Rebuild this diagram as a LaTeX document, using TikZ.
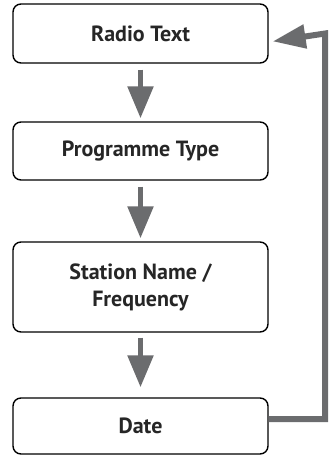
\documentclass[tikz,border=0pt]{standalone}
\usepackage{fontspec}
\setmainfont{PT Sans}
\usetikzlibrary{arrows.meta}
\definecolor{arrowgray}{HTML}{6B6C6E}
\tikzset{
  stepbox/.style={draw=black, line width=1.4pt, rounded corners=8pt, fill=white,
    minimum width=255pt, align=center, inner sep=0pt,
    font=\fontsize{22}{27}\selectfont\bfseries, text=black!85},
  flowarrow/.style={draw=arrowgray, line width=5.5pt,
    -{Triangle[width=25pt,length=32pt]}},
  backarrow/.style={draw=arrowgray, line width=6pt,
    -{Triangle[width=23pt,length=33pt]}}
}
\begin{document}
\begin{tikzpicture}[x=1pt,y=-1pt]
\useasboundingbox (0,0) rectangle (333,455);
\node[stepbox, minimum height=59pt] (r) at (140.5,33.5) {Radio Text};
\node[stepbox, minimum height=58pt] (p) at (140.5,151) {Programme Type};
\node[stepbox, minimum height=90pt] (s) at (140.5,287) {Station Name /\\Frequency};
\node[stepbox, minimum height=56pt] (d) at (140.5,426) {Date};
\draw[flowarrow, shorten <=6pt, shorten >=3pt] (r.south) -- (p.north);
\draw[flowarrow, shorten <=6pt, shorten >=3pt] (p.south) -- (s.north);
\draw[flowarrow, shorten <=5pt, shorten >=10pt] (s.south) -- (d.north);
\coordinate (c) at (325,426);
\draw[backarrow, shorten >=4pt] ([yshift=7pt]d.east) -| (c |- r.east) -- ([yshift=-8.5pt]r.east);
\end{tikzpicture}
\end{document}
